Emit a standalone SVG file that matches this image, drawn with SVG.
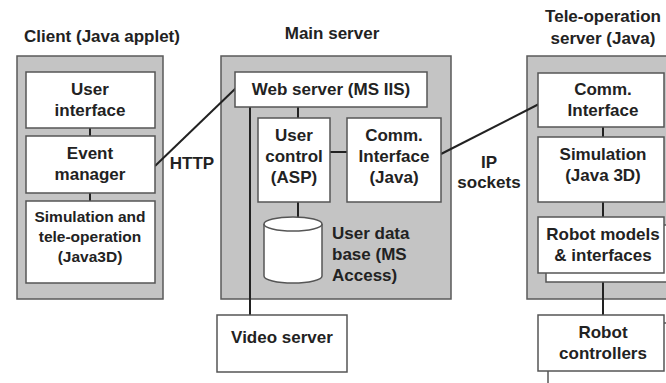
<svg xmlns="http://www.w3.org/2000/svg" width="666" height="383" viewBox="0 0 666 383">
<style>
.panel{fill:#c4c4c4;stroke:#5a5a5a;stroke-width:1.5}
.box{fill:#fff;stroke:#555;stroke-width:1.5}
.ln{stroke:#222;stroke-width:2;fill:none}
text{font-family:"Liberation Sans",Arial,sans-serif;font-weight:bold;font-size:17px;fill:#222;text-anchor:middle}
.sm{font-size:15.5px}
.l{text-anchor:start}
</style>
<rect width="666" height="383" fill="#fff"/>
<g id="client">
<text x="102" y="42">Client (Java applet)</text>
<rect class="panel" x="17" y="56" width="146" height="243"/>
</g>
<g id="main">
<text x="332" y="39">Main server</text>
<rect class="panel" x="221" y="56" width="230" height="243"/>
</g>
<g id="tele">
<text x="603" y="22">Tele-operation</text>
<text x="603" y="44">server (Java)</text>
<rect class="panel" x="527" y="56" width="150" height="243"/>
</g>
<g id="connectors">
<line class="ln" x1="90" y1="128" x2="90" y2="136"/>
<line class="ln" x1="90" y1="193" x2="90" y2="201"/>
<line class="ln" x1="155" y1="166" x2="236" y2="88"/>
<line class="ln" x1="298" y1="107" x2="298" y2="118"/>
<line class="ln" x1="330" y1="152" x2="347" y2="152"/>
<line class="ln" x1="298" y1="202" x2="298" y2="218"/>
<line class="ln" x1="250" y1="107" x2="250" y2="315"/>
<line class="ln" x1="441" y1="154" x2="539" y2="104"/>
<line class="ln" x1="603" y1="127" x2="603" y2="137"/>
<line class="ln" x1="603" y1="202" x2="603" y2="217"/>
<line class="ln" x1="603" y1="282" x2="603" y2="315"/>
</g>
<g id="user-interface">
<rect class="box" x="26" y="72" width="129" height="56"/>
<text x="90" y="95">User</text>
<text x="90" y="116">interface</text>
</g>
<g id="event-manager">
<rect class="box" x="26" y="136" width="129" height="57"/>
<text x="90" y="159">Event</text>
<text x="90" y="180">manager</text>
</g>
<g id="simulation-client">
<rect class="box" x="26" y="201" width="129" height="82"/>
<text class="sm" x="90" y="222">Simulation and</text>
<text class="sm" x="90" y="242">tele-operation</text>
<text class="sm" x="90" y="262">(Java3D)</text>
</g>
<g id="http-label"><text x="192" y="169">HTTP</text></g>
<g id="web-server">
<rect class="box" x="235" y="72" width="192" height="35"/>
<text x="331" y="95">Web server (MS IIS)</text>
</g>
<g id="user-control">
<rect class="box" x="258" y="118" width="72" height="84"/>
<text x="294" y="141">User</text>
<text x="294" y="162">control</text>
<text x="294" y="183">(ASP)</text>
</g>
<g id="comm-main">
<rect class="box" x="347" y="118" width="94" height="84"/>
<text x="394" y="141">Comm.</text>
<text x="394" y="162">Interface</text>
<text x="394" y="183">(Java)</text>
</g>
<g id="database">
<path class="box" d="M264,224 L264,276 A29,7 0 0 0 322,276 L322,224"/>
<ellipse class="box" cx="293" cy="224" rx="29" ry="7"/>
<text class="l" x="332" y="239">User data</text>
<text class="l" x="332" y="260">base (MS</text>
<text class="l" x="332" y="281">Access)</text>
</g>
<g id="video-server">
<rect class="box" x="217" y="315" width="130" height="57"/>
<text x="282" y="343">Video server</text>
</g>
<g id="ip-label">
<text x="489" y="168">IP</text>
<text x="489" y="188">sockets</text>
</g>
<g id="comm-tele">
<rect class="box" x="538" y="73" width="126" height="54"/>
<text x="603" y="95">Comm.</text>
<text x="603" y="116">Interface</text>
</g>
<g id="simulation-tele">
<rect class="box" x="538" y="137" width="126" height="65"/>
<text x="603" y="160">Simulation</text>
<text x="603" y="181">(Java 3D)</text>
</g>
<g id="robot-models">
<rect class="box" x="546" y="225" width="126" height="57"/>
<rect class="box" x="538" y="217" width="126" height="56"/>
<text x="603" y="240">Robot models</text>
<text x="603" y="261">&amp; interfaces</text>
</g>
<g id="robot-controllers">
<rect class="box" x="548" y="323" width="126" height="70"/>
<rect class="box" x="538" y="315" width="126" height="56"/>
<text x="603" y="338">Robot</text>
<text x="603" y="359">controllers</text>
</g>
</svg>
